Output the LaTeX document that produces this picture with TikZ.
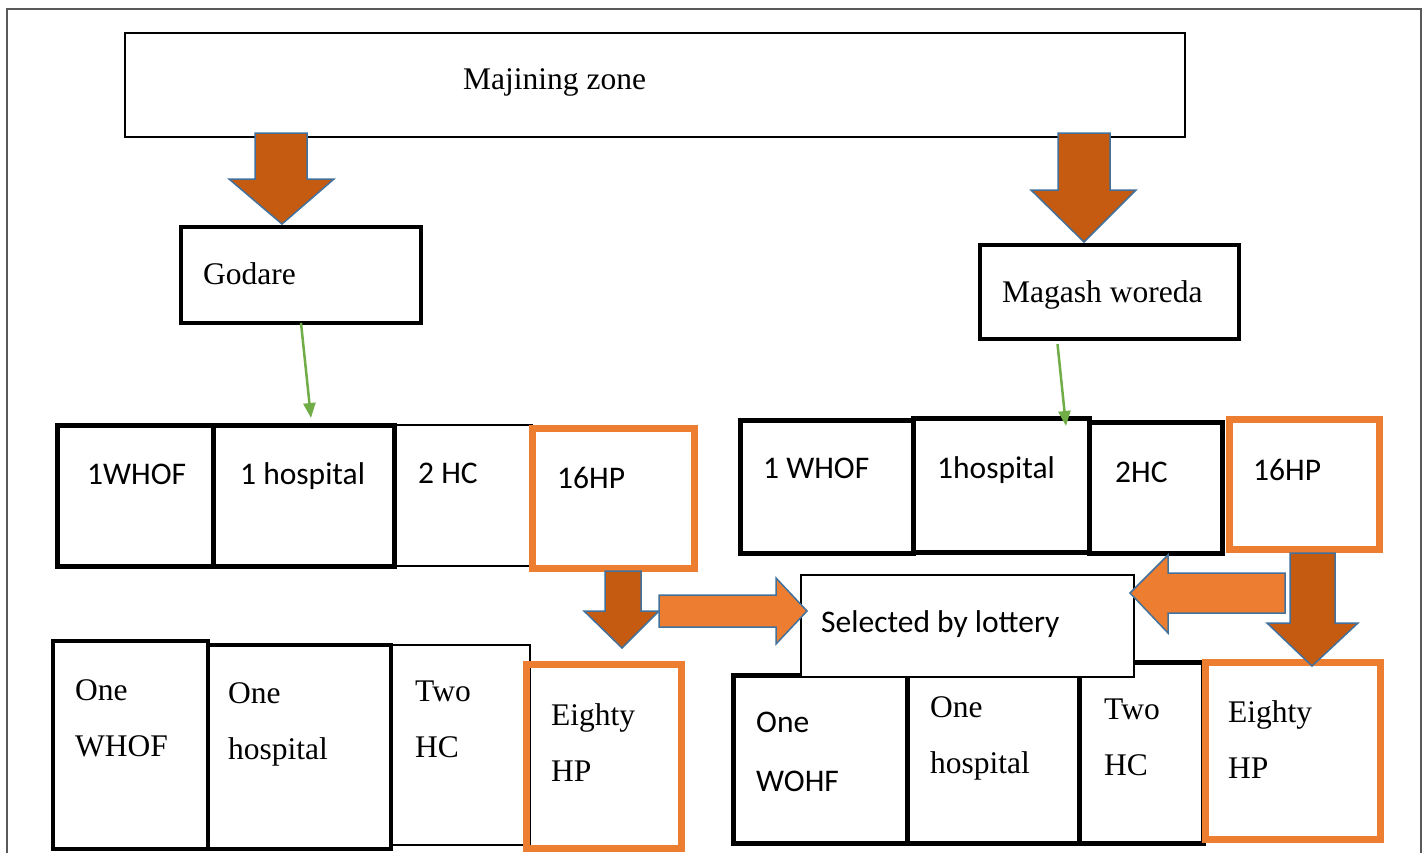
\documentclass[tikz,border=0pt]{standalone}
\usepackage{fontspec}
\setmainfont{Liberation Serif}
\newfontfamily\calibri{Carlito}
\usetikzlibrary{shapes,arrows.meta,positioning,calc,fit}

\definecolor{rust}{HTML}{C55A11}
\definecolor{tangerine}{HTML}{ED7D31}
\definecolor{edgeblue}{HTML}{41719C}
\definecolor{leaf}{HTML}{70AD47}
\definecolor{framegrey}{HTML}{595959}

\tikzset{
  cell/.style={draw, inner sep=0pt, outer sep=0pt, line width=5pt},
  thincell/.style={cell, line width=2pt},
  hpcell/.style={cell, draw=tangerine, line width=7pt},
  headbox/.style={draw, inner sep=0pt, outer sep=0pt, line width=3.5pt},
  serif/.style={anchor=base west, inner sep=0pt, align=left, font=\fontsize{31.5}{56}\selectfont},
  sans/.style={serif, font=\calibri\fontsize{31.5}{59}\selectfont},
  bigarrow/.style={draw=edgeblue, line width=1.5pt},
  thinarrow/.style={draw=leaf, line width=2.5pt, -{Triangle[length=15pt,width=12pt]}}
}

\begin{document}
\begin{tikzpicture}[x=1pt, y=-1pt]
  \clip (0,0) rectangle (1428,852);
  \fill[white] (0,0) rectangle (1428,852);
  \draw[framegrey, line width=2pt] (7,9) rectangle (1421,870);

  % zone and woredas
  \node[headbox, line width=1.5pt, fit={(125,33) (1185,137)}] (zone) {};
  \node[headbox, fit={(181,227) (421,323)}] (godare) {};
  \node[headbox, fit={(980,245) (1239,339)}] (magash) {};

  % Godare facilities
  \node[thincell, fit={(394,425) (532,566)}] (lc3) {};
  \node[cell, fit={(57,425) (213,566)}] (lc1) {};
  \node[cell, fit={(213,425) (394,566)}] (lc2) {};
  \node[hpcell, fit={(532,428) (694,568)}] (lc4) {};

  \node[thincell, fit={(391,645) (530,845)}] (ld3) {};
  \node[cell, line width=4pt, fit={(53,641) (208,849)}] (ld1) {};
  \node[cell, line width=4pt, fit={(208,645) (391,849)}] (ld2) {};
  \node[hpcell, fit={(526,664) (681,848)}] (ld4) {};

  % Magash facilities
  \node[cell, fit={(740,420) (913,553)}] (rc1) {};
  \node[cell, fit={(913,418) (1089,552)}] (rc2) {};
  \node[cell, fit={(1089,422) (1222,553)}] (rc3) {};
  \node[hpcell, fit={(1229,419) (1379,549)}] (rc4) {};

  \node[cell, fit={(733,675) (907,843)}] (rd1) {};
  \node[cell, fit={(907,663) (1079,843)}] (rd2) {};
  \node[cell, fit={(1079,662) (1203,843)}] (rd3) {};
  \node[hpcell, fit={(1205,662) (1380,839)}] (rd4) {};

  \node[draw, fill=white, line width=1.5pt, inner sep=0pt, fit={(801,575) (1134,677)}] (lottery) {};

  % texts (two-line texts sit on the baseline of their last line)
  \node[serif] (zonet) at (463,89) {Majining zone};
  \node[serif] (godaret) at (203,284) {Godare};
  \node[serif] (magasht) at (1002,302) {Magash woreda};
  \foreach \nm/\x/\y/\t in {la1/87/484/1WHOF, la2/240/484/1 hospital, la3/418/483/2 HC,
      la4/557/488/16HP, ra1/763/478/1 WHOF, ra2/937/478/1hospital, ra3/1115/482/2HC,
      ra4/1253/480/16HP, rb1/756/791/{One\\WOHF}, lot/821/632/Selected by lottery}
    \node[sans] (\nm) at (\x,\y) {\t};
  \foreach \nm/\x/\y/\t in {lb1/75/756/{One\\WHOF}, lb2/228/759/{One\\hospital},
      lb3/415/757/{Two\\HC}, lb4/551/781/{Eighty\\HP}, rb2/930/773/{One\\hospital},
      rb3/1104/775/{Two\\HC}, rb4/1228/778/{Eighty\\HP}}
    \node[serif] (\nm) at (\x,\y) {\t};

  % green links
  \coordinate (gl) at (311,418);
  \coordinate (gr) at (1066,426);
  \draw[thinarrow] (godare.south) -- (gl);
  \draw[thinarrow] ([xshift=-52pt, yshift=-5pt]magash.south) -- (gr);

  % block arrows
  \draw[bigarrow, fill=rust] (255,133) -- (307,133) -- (307,179) -- (334,179) -- (282,224)
    -- (229,179) -- (255,179) -- cycle;
  \draw[bigarrow, fill=rust] (1058,133) -- (1110,133) -- (1110,190) -- (1136,190) -- (1084,242)
    -- (1031,190) -- (1058,190) -- cycle;
  \draw[bigarrow, fill=rust] (605,571) -- (641,571) -- (641,611) -- (659,611) -- (622,648)
    -- (584,611) -- (605,611) -- cycle;
  \draw[bigarrow, fill=tangerine] (659,595) -- (776,595) -- (776,578) -- (807,611) -- (776,644)
    -- (776,627) -- (659,627) -- cycle;
  \draw[bigarrow, fill=tangerine] (1285,573) -- (1168,573) -- (1168,555) -- (1130,593) -- (1168,633)
    -- (1168,613) -- (1285,613) -- cycle;
  \draw[bigarrow, fill=rust] (1290,553) -- (1335,553) -- (1335,623) -- (1358,623) -- (1312,666)
    -- (1267,623) -- (1290,623) -- cycle;
\end{tikzpicture}
\end{document}
